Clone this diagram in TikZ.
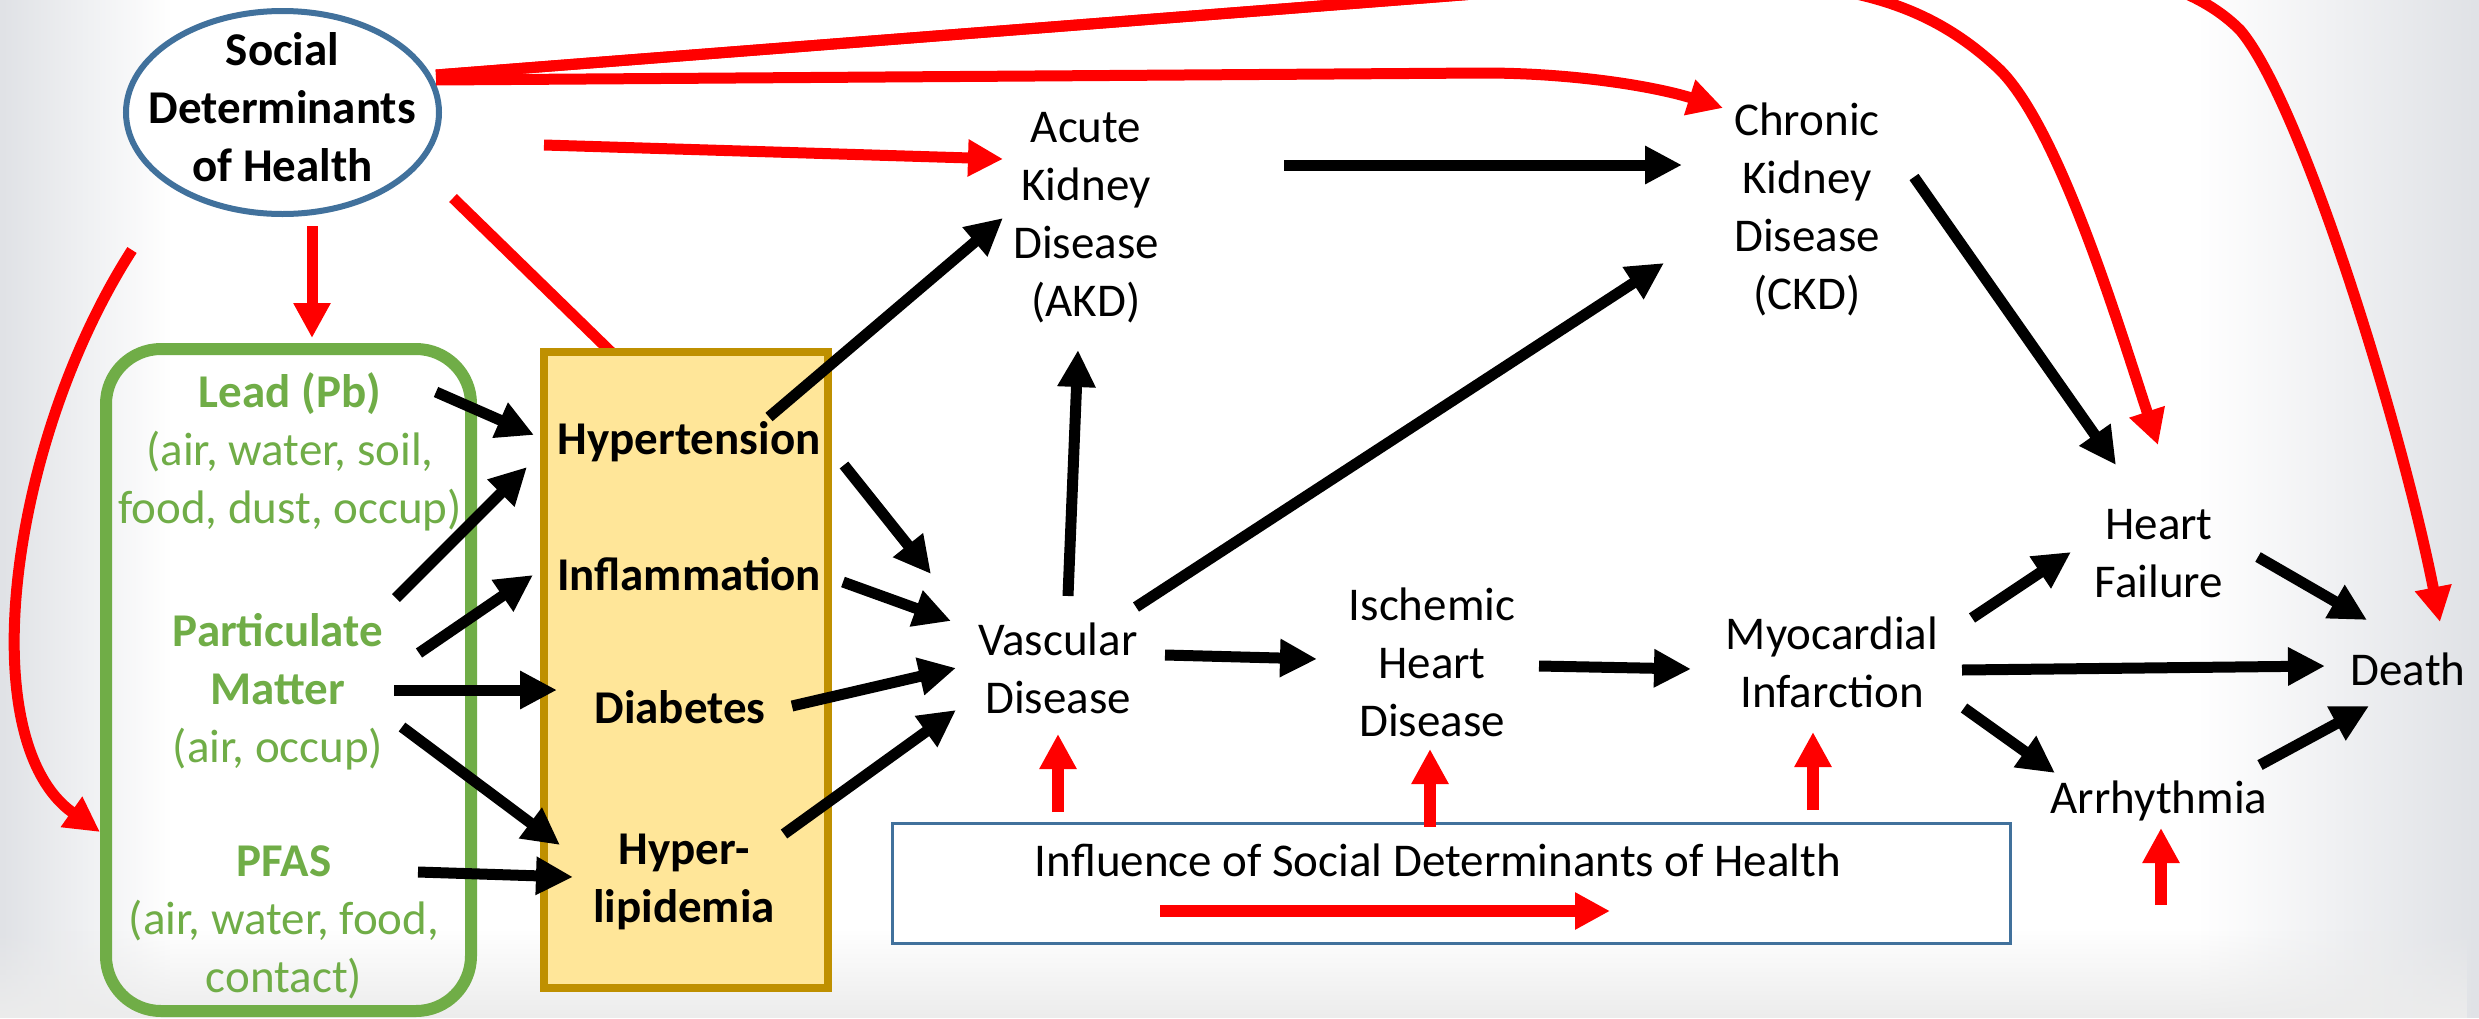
\documentclass[tikz,border=0pt]{standalone}
\usepackage{fontspec}
\setmainfont{Carlito}
\usetikzlibrary{arrows.meta,calc,shapes.geometric,fadings}

\definecolor{sdred}{RGB}{255,0,0}
\definecolor{envgreen}{RGB}{112,173,71}
\definecolor{mechfill}{RGB}{255,230,153}
\definecolor{mechline}{RGB}{191,144,0}
\definecolor{outline}{RGB}{65,113,156}
\definecolor{bgedge}{RGB}{224,226,230}
\definecolor{bgfloor}{RGB}{236,236,236}

\tikzfading[name=fade right, left color=transparent!0, right color=transparent!100]
\tikzfading[name=fade left, left color=transparent!100, right color=transparent!0]
\tikzfading[name=fade up, bottom color=transparent!0, top color=transparent!100]

\pgfdeclarelayer{canvas}
\pgfsetlayers{canvas,main}

\begin{document}
\begin{tikzpicture}[x=1pt,y=-1pt,
  lbl/.style={inner sep=0pt, align=center, font=\fontsize{47pt}{58pt}\selectfont},
  mechlbl/.style={inner sep=0pt, align=center, font=\fontsize{47pt}{58pt}\selectfont\bfseries},
  envlbl/.style={lbl, text=envgreen},
  blk/.style={line width=11pt, -{Triangle[length=37pt,width=36pt]}},
  sdline/.style={color=sdred, line width=11pt},
  sdarrow/.style={sdline, -{Triangle[length=35pt,width=35pt]}},
  uparrow/.style={color=sdred, line width=12pt, -{Triangle[length=35pt,width=35pt]}}]

\useasboundingbox (0,0) rectangle (2479,1018);
\clip (0,0) rectangle (2479,1018);

% boxes
\node[draw=envgreen, line width=12pt, rounded corners=55pt, minimum width=365pt,
      minimum height=662pt, inner sep=0pt] (src) at (288.5,680) {};
\node[ellipse, draw=outline, fill=white, line width=6pt, minimum width=313pt,
      minimum height=203pt, inner sep=0pt] (sdoh) at (282.5,112.5) {};
\node[draw=mechline, fill=mechfill, line width=8pt, minimum width=284pt,
      minimum height=636pt, inner sep=0pt] (mech) at (686,670) {};
\node[draw=outline, fill=white, line width=3pt, minimum width=1118pt,
      minimum height=120pt, inner sep=0pt] (infbox) at (1451,883) {};

% canvas with soft grey edges, and the link that runs under the mechanism box
\begin{pgfonlayer}{canvas}
  \fill[white] (0,0) rectangle (2479,1018);
  \fill[bgedge, path fading=fade right] (0,0) rectangle (170,1018);
  \fill[bgedge, path fading=fade left] (2200,0) rectangle (2479,1018);
  \fill[bgfloor, path fading=fade up] (0,930) rectangle (2479,1018);
  \draw[sdline] ($(sdoh)+(170.5,85.5)$) -- ($(mech)+(-75,-318)$);
\end{pgfonlayer}

% labels
\node[mechlbl] (sdohtxt) at (282.5,107.5) {Social\\Determinants\\of Health};
\node[envlbl] (lead) at (290,452) {\textbf{Lead (Pb)}\\(air, water, soil,\\food, dust, occup)};
\node[envlbl] (pm) at (278,692) {\textbf{Particulate}\\\textbf{Matter}\\(air, occup)};
\node[envlbl] (pfas) at (284,922) {\textbf{PFAS}\\(air, water, food,\\contact)};
\node[mechlbl] (hyp) at (689,442) {Hypertension};
\node[mechlbl] (infl) at (689,574) {Inflammation};
\node[mechlbl] (diab) at (680,707) {Diabetes};
\node[mechlbl] (hlip) at (684,882) {Hyper-\\lipidemia};
\node[lbl] (akd) at (1086,218) {Acute\\Kidney\\Disease\\(AKD)};
\node[lbl] (ckd) at (1807,209) {Chronic\\Kidney\\Disease\\(CKD)};
\node[lbl] (vd) at (1058,668) {Vascular\\Disease};
\node[lbl] (ihd) at (1432,662) {Ischemic\\Heart\\Disease};
\node[lbl] (mi) at (1832,662) {Myocardial\\Infarction};
\node[lbl] (hf) at (2159,554) {Heart\\Failure};
\node[lbl] (arr) at (2159,801) {Arrhythmia};
\node[lbl] (death) at (2408,669) {Death};
\node[lbl] (infltxt) at (1438,860) {Influence of Social Determinants of Health};

% exposures to mechanisms
\draw[blk] ($(lead)+(146,-60)$) -- ($(hyp)+(-155,-7)$);
\draw[blk] ($(pm)+(118,-94)$) -- ($(hyp)+(-162,25)$);
\draw[blk] ($(pm)+(141,-39)$) -- ($(infl)+(-156,1)$);
\draw[blk] ($(pm)+(116,-2)$) -- ($(diab)+(-123,-17)$);
\draw[blk] ($(pm)+(124,35)$) -- ($(hlip)+(-124,-37)$);
\draw[blk] ($(pfas)+(134,-50)$) -- ($(hlip)+(-111,-5)$);

% mechanisms to disease
\draw[blk] ($(hyp)+(80,-25)$) -- ($(akd)+(-83,0)$);
\draw[blk] ($(hyp)+(155,23)$) -- ($(vd)+(-127,-94)$);
\draw[blk] ($(infl)+(154,8)$) -- ($(vd)+(-107,-47)$);
\draw[blk] ($(diab)+(112,-1)$) -- ($(vd)+(-102,0)$);
\draw[blk] ($(hlip)+(100,-48)$) -- ($(vd)+(-102,42)$);

% disease progression
\draw[blk] ($(vd)+(10,-72)$) -- ($(akd)+(-8,132)$);
\draw[blk] ($(vd)+(78,-61)$) -- ($(ckd)+(-143,54)$);
\draw[blk] ($(akd)+(198,-53)$) -- ($(ckd)+(-125,-44)$);
\draw[blk] ($(ckd)+(107,-32)$) -- ($(hf)+(-43,-89)$);
\draw[blk] ($(vd)+(107,-13)$) -- ($(ihd)+(-115,-3)$);
\draw[blk] ($(ihd)+(107,4)$) -- ($(mi)+(-141,7)$);
\draw[blk] ($(mi)+(140,-44)$) -- ($(hf)+(-88,-2)$);
\draw[blk] ($(mi)+(130,8)$) -- ($(death)+(-83,-3)$);
\draw[blk] ($(mi)+(132,46)$) -- ($(arr)+(-104,-28)$);
\draw[blk] ($(hf)+(99,3)$) -- ($(death)+(-41,-49)$);
\draw[blk] ($(arr)+(101,-36)$) -- ($(death)+(-39,37)$);

% social determinants of health pathways
\draw[sdarrow] ($(sdoh)+(29.5,113.5)$) -- ($(src)+(23.5,-342)$);
\draw[sdarrow] ($(sdoh)+(261.5,32.5)$) -- ($(akd)+(-83,-59)$);
\draw[sdarrow] ($(sdoh)+(153.5,-32.5)$) -- (1483,73)
  .. controls (1580,73) and (1660,88) .. ($(ckd)+(-84,-101)$);
\draw[sdarrow] ($(sdoh)+(153.5,-37.5)$) -- (1500,-8)
  .. controls (1780,-30) and (1900,-25) .. (2000,70)
  .. controls (2060,130) and (2120,330) .. ($(hf)+(-1,-109)$);
\draw[sdarrow] ($(sdoh)+(153.5,-37.5)$) -- (1500,-8)
  .. controls (1950,-45) and (2150,-60) .. (2240,30)
  .. controls (2300,100) and (2400,420) .. ($(death)+(32,-47)$);
\draw[sdarrow] ($(sdoh)+(-150.5,137.5)$)
  .. controls (10,440) and (-30,740) .. ($(src)+(-188.5,152)$);

% influence markers
\draw[uparrow] ($(infbox)+(-393,-71)$) -- ($(vd)+(0,66)$);
\draw[uparrow] ($(infbox)+(-21,-56)$) -- ($(ihd)+(-2,87)$);
\draw[uparrow] ($(infbox)+(362,-73)$) -- ($(mi)+(-19,70)$);
\draw[uparrow] ($(infbox)+(710,22)$) -- ($(arr)+(2,27)$);
\draw[uparrow] ($(infbox)+(-291,28)$) -- ($(infbox)+(159,28)$);
\end{tikzpicture}
\end{document}
